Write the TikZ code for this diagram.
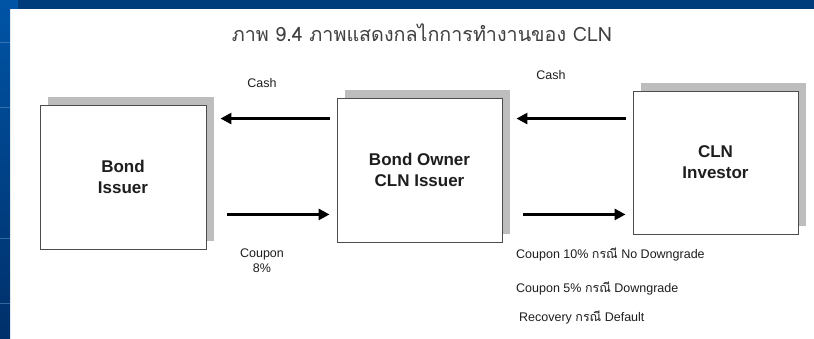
\documentclass[tikz,border=0pt]{standalone}
\usepackage{fontspec}
\setmainfont{Liberation Sans}
\newfontfamily\thaifont[Script=Thai]{Loma}
\usetikzlibrary{arrows.meta,shadows,calc}
\definecolor{bluetop}{HTML}{003C7C}
\definecolor{blueleftA}{HTML}{0054A6}
\definecolor{blueleftB}{HTML}{00306A}
\definecolor{shadowgray}{HTML}{BDBDBD}
\definecolor{txt}{HTML}{1E1E1E}
\tikzset{
  box/.style={draw=black!70, line width=0.9pt, fill=white, align=center,
    font=\bfseries\fontsize{17}{21}\selectfont, text=txt,
    general shadow={fill=shadowgray, shadow xshift=8pt, shadow yshift=8pt}},
  flow/.style={line width=3pt, -{Triangle[length=11pt,width=11pt]}, black},
  lbl/.style={font=\fontsize{12.5}{15}\selectfont, text=txt, inner sep=0pt, align=center},
}
\begin{document}
\begin{tikzpicture}[x=1pt,y=-1pt]
\useasboundingbox (0,0) rectangle (814,338);
\fill[white] (0,0) rectangle (814,338);
% frame
\shade[top color=blueleftA, bottom color=blueleftB] (0,0) rectangle (10,338);
\fill[bluetop] (18,0) rectangle (814,9);
\fill[blueleftA] (0,0) rectangle (18,9);
\foreach \yy in {42,107,238,303} \draw[blueleftA!60!white, opacity=0.5, line width=0.6pt] (0,\yy) -- (10,\yy);
% title
\node[text=black!75, font=\thaifont\fontsize{19.7}{22}\selectfont, inner sep=0pt] (title) at (422,33) {ภาพ 9.4 ภาพแสดงกลไกการทำงานของ CLN};
% boxes
\node[box, minimum width=166pt, minimum height=144pt] (a) at (123,177) {Bond\\Issuer};
\node[box, minimum width=165pt, minimum height=144pt] (b) at (419.5,170) {Bond Owner\\CLN Issuer};
\node[box, minimum width=165pt, minimum height=143pt] (c) at (715.5,162.5) {CLN\\Investor};
% arrows
\draw[flow] ($(b.north west)+(-7,21)$) -- ($(a.north east)+(14,14)$);
\draw[flow] ($(a.south east)+(21,-35)$) -- ($(b.south west)+(-7,-28)$);
\draw[flow] ($(c.north west)+(-7,28)$) -- ($(b.north east)+(14,21)$);
\draw[flow] ($(b.south east)+(21,-28)$) -- ($(c.south west)+(-7,-20)$);
% labels
\node[lbl] (cash1) at (262,83) {Cash};
\node[lbl] (cash2) at (551,75) {Cash};
\node[lbl] (cp8) at (262,261) {Coupon\\8\%};
\node[lbl, anchor=west] (cp10) at (516,254) {Coupon 10\% {\thaifont กรณี} No Downgrade};
\node[lbl, anchor=west] (cp5) at (516,288) {Coupon 5\% {\thaifont กรณี} Downgrade};
\node[lbl, anchor=west] (rec) at (519,317) {Recovery {\thaifont กรณี} Default};
\end{tikzpicture}
\end{document}
